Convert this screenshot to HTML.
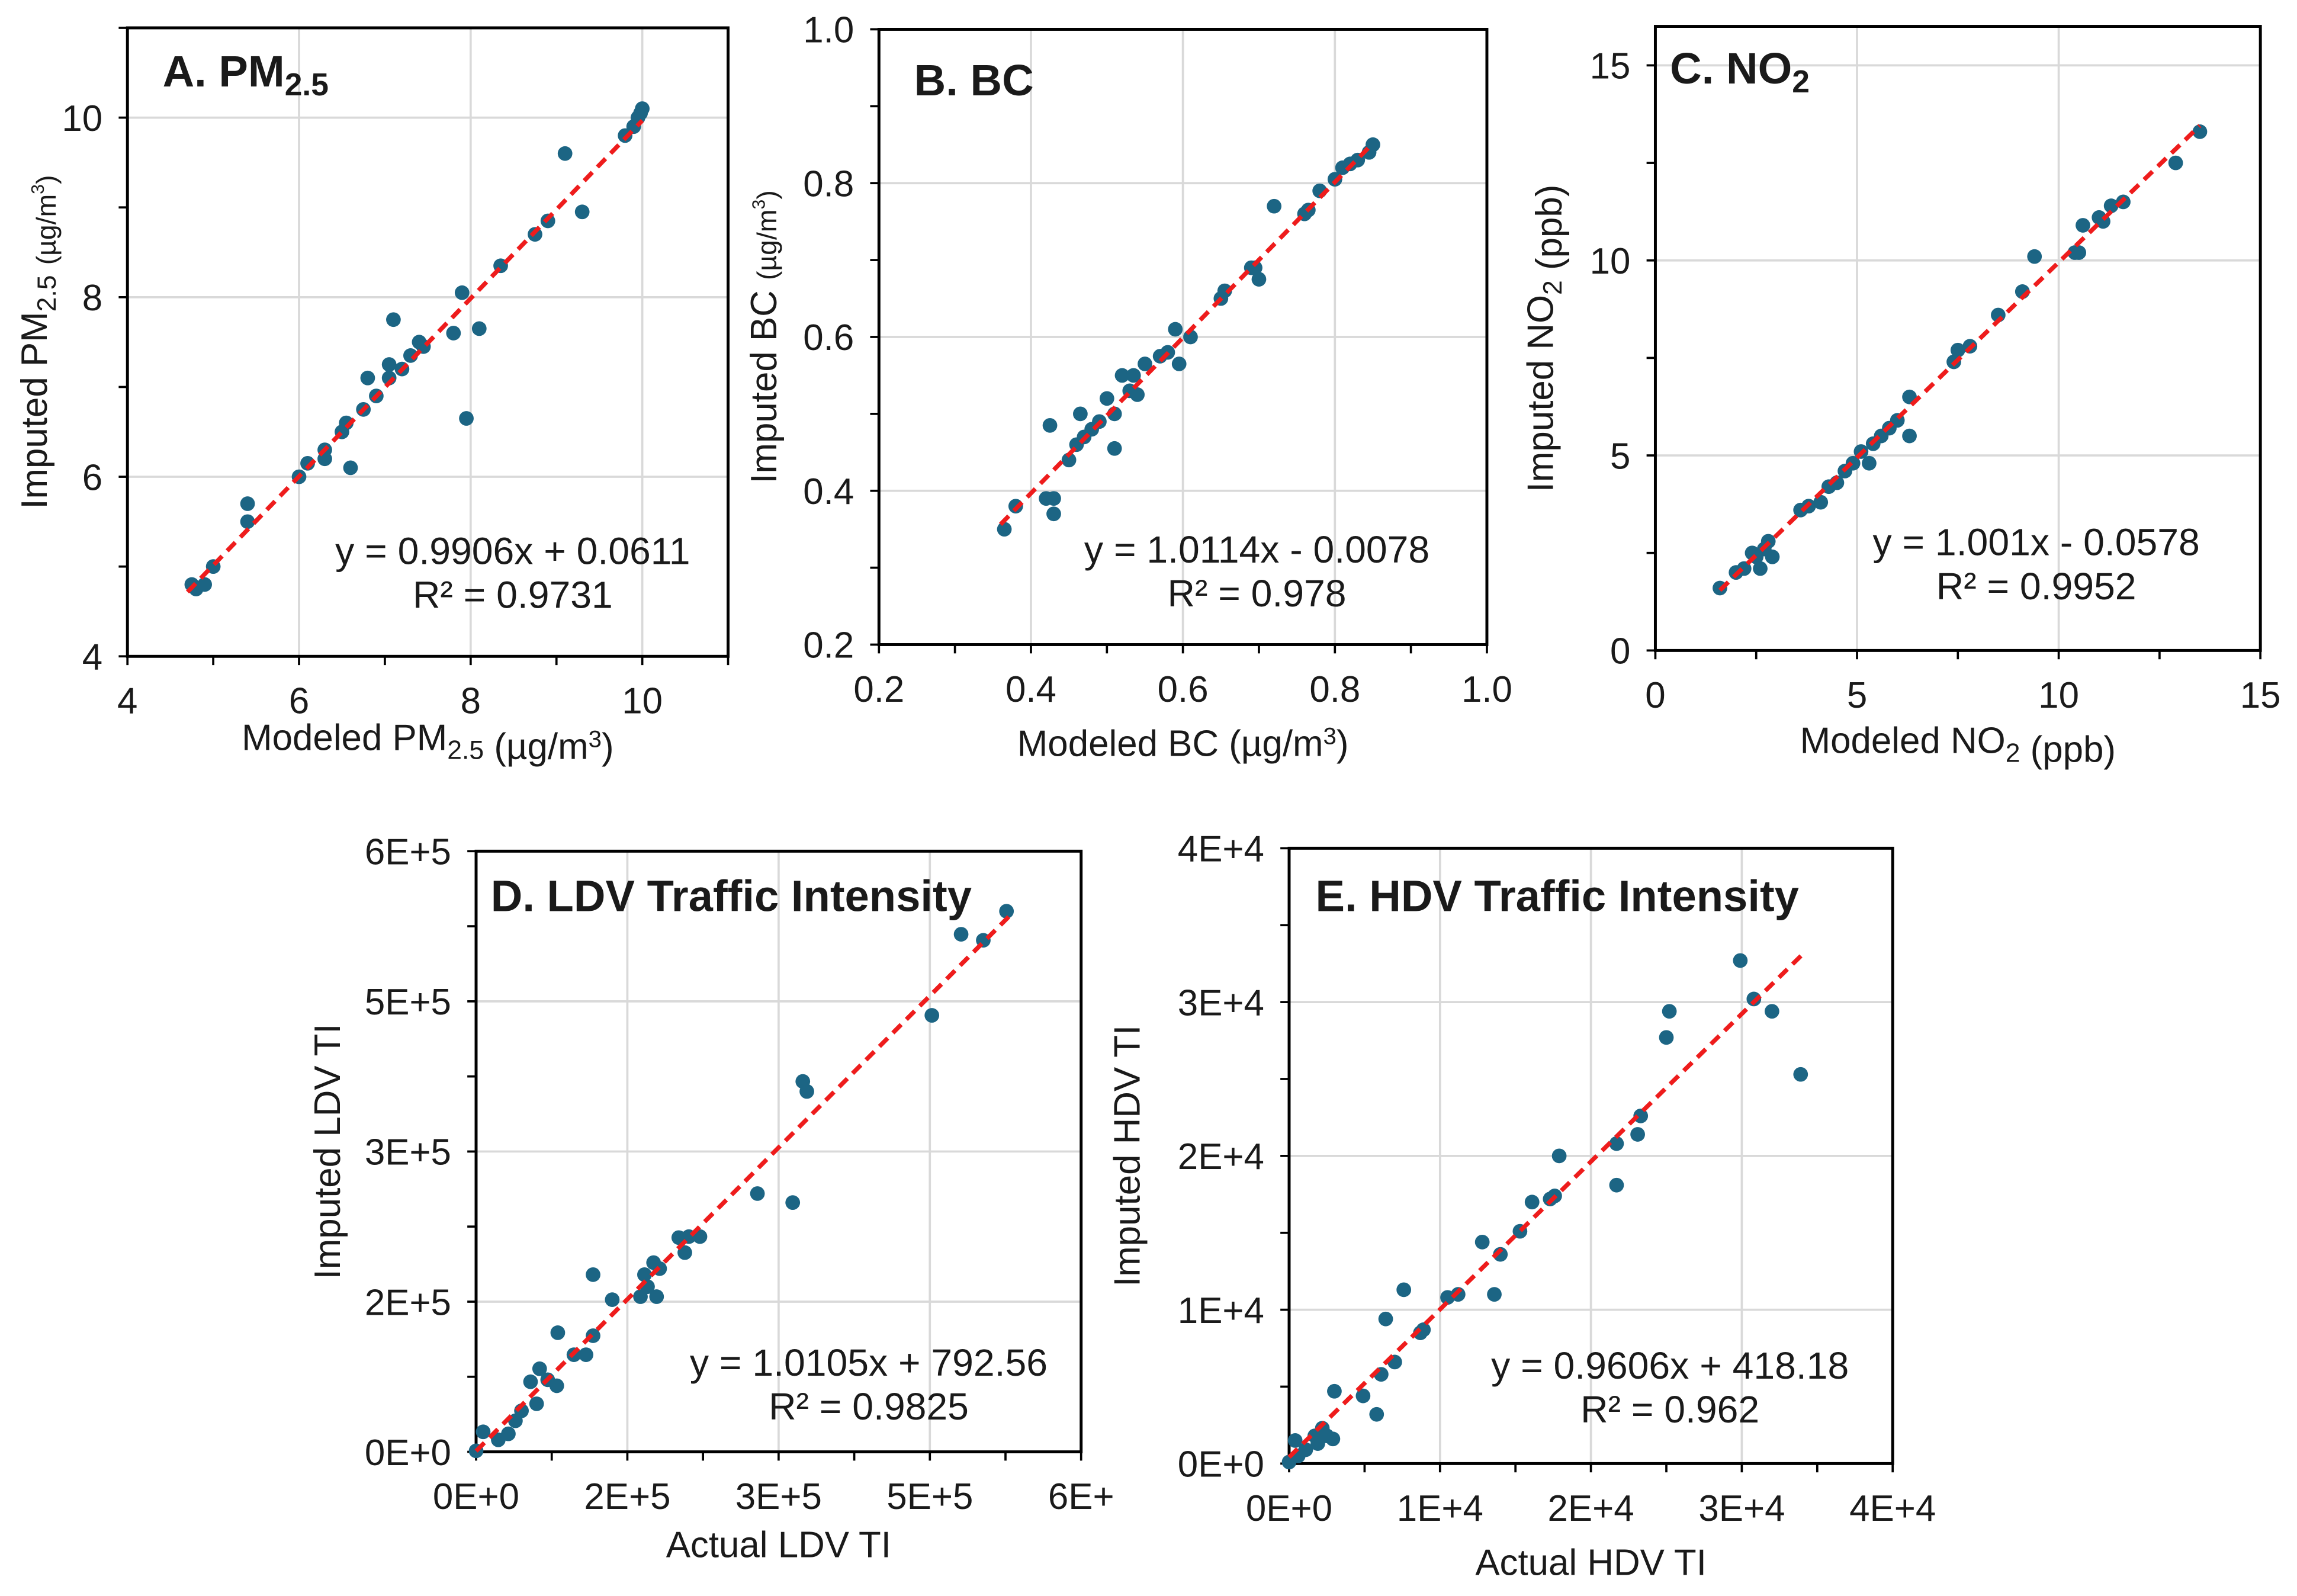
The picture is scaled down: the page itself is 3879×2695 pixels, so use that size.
<!DOCTYPE html>
<html><head><meta charset="utf-8">
<style>
html,body{margin:0;padding:0;background:#fff;}
svg{display:block;}
text{font-family:"Liberation Sans",Arial,sans-serif;fill:#1a1a1a;}
</style></head>
<body>
<svg id="fig" width="3879" height="2695" viewBox="0 0 1568 1089.4" preserveAspectRatio="none" xmlns="http://www.w3.org/2000/svg"></svg>
<script>
// Panel A data
const aX=[4.75,4.8,4.9,5.0,5.4,5.4,6.0,6.1,6.3,6.3,6.5,6.55,6.6,6.75,6.8,6.9,7.05,7.05,7.1,7.2,7.3,7.4,7.45,7.8,7.9,7.95,8.1,8.35,8.75,8.9,9.1,9.3,9.8,9.9,9.95,10.0,9.98];
const aY=[4.8,4.75,4.8,5.0,5.5,5.7,6.0,6.15,6.2,6.3,6.5,6.6,6.1,6.75,7.1,6.9,7.1,7.25,7.75,7.2,7.35,7.5,7.45,7.6,8.05,6.65,7.65,8.35,8.7,8.85,9.6,8.95,9.8,9.9,10.0,10.1,10.05];
// Panel B data
const bX=[0.365,0.38,0.42,0.425,0.43,0.43,0.45,0.46,0.465,0.47,0.48,0.49,0.5,0.51,0.51,0.52,0.53,0.535,0.54,0.55,0.57,0.58,0.59,0.595,0.61,0.65,0.655,0.69,0.695,0.7,0.72,0.76,0.765,0.78,0.8,0.81,0.82,0.83,0.845,0.85];
const bY=[0.35,0.38,0.39,0.485,0.39,0.37,0.44,0.46,0.5,0.47,0.48,0.49,0.52,0.5,0.455,0.55,0.53,0.55,0.525,0.565,0.575,0.58,0.61,0.565,0.6,0.65,0.66,0.69,0.69,0.675,0.77,0.76,0.765,0.79,0.805,0.82,0.825,0.83,0.84,0.85];
// Panel C data
const cX=[1.6,2.0,2.2,2.4,2.5,2.6,2.7,2.8,2.9,3.6,3.8,4.1,4.3,4.5,4.7,4.9,5.1,5.3,5.4,5.6,5.8,6.0,6.3,6.3,7.4,7.5,7.8,8.5,9.1,9.4,10.4,10.5,10.6,11.0,11.1,11.3,11.6,12.9,13.5];
const cY=[1.6,2.0,2.1,2.5,2.4,2.1,2.6,2.8,2.4,3.6,3.7,3.8,4.2,4.3,4.6,4.8,5.1,4.8,5.3,5.5,5.7,5.9,5.5,6.5,7.4,7.7,7.8,8.6,9.2,10.1,10.2,10.2,10.9,11.1,11.0,11.4,11.5,12.5,13.3];
// Panel D data (units of 1e5)
const dX=[0,0.07,0.22,0.32,0.39,0.45,0.54,0.6,0.63,0.71,0.8,0.81,0.97,1.09,1.16,1.16,1.35,1.63,1.67,1.7,1.76,1.79,1.82,2.01,2.07,2.11,2.22,2.79,3.14,3.24,3.28,4.52,4.81,5.03,5.26];
const dY=[0.01,0.2,0.12,0.18,0.31,0.41,0.7,0.48,0.83,0.72,0.66,1.19,0.97,0.97,1.77,1.16,1.52,1.55,1.77,1.65,1.89,1.55,1.83,2.14,1.99,2.15,2.15,2.58,2.49,3.7,3.6,4.36,5.17,5.11,5.4];
// Panel E data (units of 1e4)
const eX=[0,0.04,0.06,0.11,0.17,0.19,0.22,0.25,0.29,0.30,0.49,0.58,0.61,0.64,0.70,0.76,0.87,0.89,1.05,1.12,1.28,1.36,1.40,1.53,1.61,1.73,1.76,1.79,2.17,2.17,2.31,2.33,2.50,2.52,2.99,3.08,3.20,3.39];
const eY=[0.01,0.15,0.05,0.09,0.18,0.13,0.23,0.18,0.16,0.47,0.44,0.32,0.58,0.94,0.66,1.13,0.85,0.87,1.08,1.10,1.44,1.10,1.36,1.51,1.70,1.72,1.74,2.00,1.81,2.08,2.14,2.26,2.77,2.94,3.27,3.02,2.94,2.53];
const xTicksD=["0E+0","2E+5","3E+5","5E+5","6E+"];
const yTicksD=["0E+0","2E+5","3E+5","5E+5","6E+5"];
const xTicksE=["0E+0","1E+4","2E+4","3E+4","4E+4"];
const yTicksE=["0E+0","1E+4","2E+4","3E+4","4E+4"];

const NS="http://www.w3.org/2000/svg";
const svg=document.getElementById('fig');
function mk(tag,attrs,parent){const e=document.createElementNS(NS,tag);for(const k in attrs)e.setAttribute(k,attrs[k]);(parent||svg).appendChild(e);return e;}

function panel(p){
  const g=mk('g',{});
  
  
  const sx=v=>p.l+(v-p.x0)/(p.x1-p.x0)*(p.r-p.l);
  const sy=v=>p.b-(v-p.y0)/(p.y1-p.y0)*(p.b-p.t);
  for(let v=p.x0+p.xs;v<p.x1-1e-9;v+=p.xs){const ln=mk('line',{x1:sx(v),x2:sx(v),y1:p.t,y2:p.b,stroke:'#d9d9d9','stroke-width':1.5},g);
    }
  for(let v=p.y0+p.ys;v<p.y1-1e-9;v+=p.ys){const ln=mk('line',{x1:p.l,x2:p.r,y1:sy(v),y2:sy(v),stroke:'#d9d9d9','stroke-width':1.5},g);
    }
  for(let v=p.x0;v<=p.x1+1e-9;v+=p.xs/2){mk('line',{x1:sx(v),x2:sx(v),y1:p.b,y2:p.b+6,stroke:'#000','stroke-width':1.5},g);}
  for(let v=p.y0;v<=p.y1+1e-9;v+=p.ys/2){mk('line',{x1:p.l-6,x2:p.l,y1:sy(v),y2:sy(v),stroke:'#000','stroke-width':1.5},g);}
  const fr=mk('rect',{x:p.l,y:p.t,width:p.r-p.l,height:p.b-p.t,fill:'none',stroke:'#000','stroke-width':2},g);
  
  p.xl.forEach((s,i)=>{const t=mk('text',{x:sx(p.x0+i*p.xs),y:p.b+39,'font-size':25,'text-anchor':'middle'},g);t.textContent=s;
    });
  p.yl.forEach((s,i)=>{const v=p.y0+i*p.ys;if(sy(v)<p.t-20)return;const t=mk('text',{x:p.l-17,y:sy(v)+9,'font-size':25,'text-anchor':'end'},g);t.textContent=s;
    });
  p.X.forEach((xv,i)=>{const c=mk('circle',{cx:sx(xv),cy:sy(p.Y[i]),r:5,fill:'#1c6584'},g);
    });
  const tl=mk('line',{x1:sx(p.f0),y1:sy(p.m*p.f0+p.c),x2:sx(p.f1),y2:sy(p.m*p.f1+p.c),stroke:'#ee1c1c','stroke-width':3,'stroke-dasharray':'8 5'},g);
  
  const tt=mk('text',{x:p.tx,y:p.ty,'font-size':30,'font-weight':'bold'},g);tt.innerHTML=p.title;
  
  const e1=mk('text',{x:p.ex,y:p.ey,'font-size':26,'text-anchor':'middle'},g);e1.textContent=p.eq;
  
  const e2=mk('text',{x:p.ex,y:p.ey+30,'font-size':26,'text-anchor':'middle'},g);e2.textContent=p.r2;
  
  const xt=mk('text',{x:(p.l+p.r)/2,y:p.b+p.xto,'font-size':25,'text-anchor':'middle'},g);xt.innerHTML=p.xtitle;
  
  const yt=mk('text',{x:0,y:0,'font-size':25,'text-anchor':'middle',transform:`translate(${p.ytx},${(p.t+p.b)/2}) rotate(-90)`},g);yt.innerHTML=p.ytitle;
  
}
const sub=s=>`<tspan font-size="0.72em" dy="6">${s}</tspan><tspan dy="-6"></tspan>`;
const sup=s=>`<tspan font-size="0.65em" dy="-8">${s}</tspan><tspan dy="8">`;
panel({name:'panel-a-pm25',X:aX,Y:aY,l:87,r:497,t:19,b:448,x0:4,x1:11,y0:4,y1:11,xs:2,ys:2,
  xl:['4','6','8','10'],yl:['4','6','8','10'],m:0.9906,c:0.0611,f0:4.7,f1:10.0,xto:64,
  title:'A. PM'+sub('2.5'),tx:111,ty:59,eq:'y = 0.9906x + 0.0611',r2:'R² = 0.9731',ex:350,ey:385,
  xtitle:'Modeled PM'+sub('2.5')+' (µg/m'+sup('3')+')</tspan>',ytitle:'Imputed PM'+sub('2.5')+' <tspan font-size="0.75em">(µg/m'+sup('3')+')</tspan></tspan>',ytx:32});
panel({name:'panel-b-bc',X:bX,Y:bY,l:600,r:1015,t:20,b:440,x0:0.2,x1:1.0,y0:0.2,y1:1.0,xs:0.2,ys:0.2,
  xl:['0.2','0.4','0.6','0.8','1.0'],yl:['0.2','0.4','0.6','0.8','1.0'],m:1.0114,c:-0.0078,f0:0.36,f1:0.85,xto:76,
  title:'B. BC',tx:624,ty:65,eq:'y = 1.0114x - 0.0078',r2:'R² = 0.978',ex:858,ey:384,
  xtitle:'Modeled BC (µg/m'+sup('3')+')</tspan>',ytitle:'Imputed  BC  <tspan font-size="0.75em">(µg/m'+sup('3')+')</tspan></tspan>',ytx:530});
panel({name:'panel-c-no2',X:cX,Y:cY,l:1130,r:1543,t:18,b:444,x0:0,x1:15,y0:0,y1:16,xs:5,ys:5,
  xl:['0','5','10','15'],yl:['0','5','10','15'],m:1.001,c:-0.0578,f0:1.6,f1:13.5,xto:70,
  title:'C. NO'+sub('2'),tx:1140,ty:57,eq:'y = 1.001x - 0.0578',r2:'R² = 0.9952',ex:1390,ey:379,
  xtitle:'Modeled NO'+sub('2')+' (ppb)',ytitle:'Imputed NO'+sub('2')+' (ppb)',ytx:1060});
panel({name:'panel-d-ldv',X:dX,Y:dY,l:325,r:738,t:581,b:991,x0:0,x1:6,y0:0,y1:6,xs:1.5,ys:1.5,
  xl:xTicksD,yl:yTicksD,m:1.0105,c:0.0079,f0:0,f1:5.3,xto:72,
  title:'D. LDV Traffic Intensity',tx:335,ty:622,eq:'y = 1.0105x + 792.56',r2:'R² = 0.9825',ex:593,ey:939,
  xtitle:'Actual LDV TI',ytitle:'Imputed  LDV TI',ytx:232});
panel({name:'panel-e-hdv',X:eX,Y:eY,l:880,r:1292,t:579,b:999,x0:0,x1:4,y0:0,y1:4,xs:1,ys:1,
  xl:xTicksE,yl:yTicksE,m:0.9606,c:0.0418,f0:0,f1:3.4,xto:76,
  title:'E. HDV Traffic Intensity',tx:898,ty:622,eq:'y = 0.9606x + 418.18',r2:'R² = 0.962',ex:1140,ey:941,
  xtitle:'Actual HDV TI',ytitle:'Imputed  HDV TI',ytx:778});
</script>
</body></html>
